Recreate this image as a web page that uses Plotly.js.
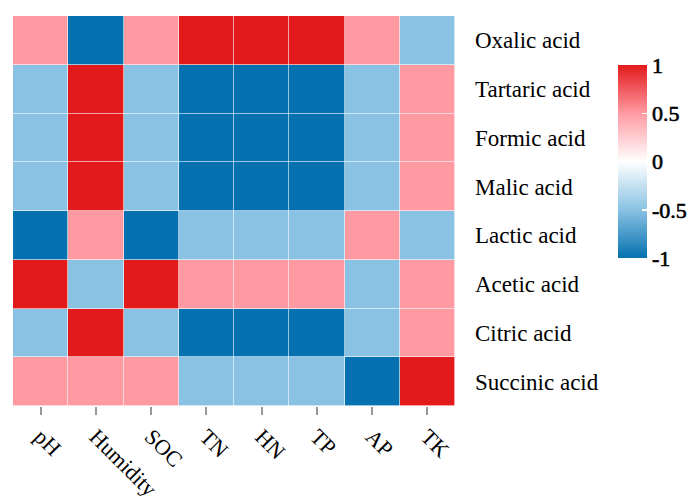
<!DOCTYPE html>
<html>
<head>
<meta charset="utf-8">
<script src="https://cdn.plot.ly/plotly-3.0.1.min.js"></script>
<style>
html,body{margin:0;padding:0;background:#fff;}
#chart{width:692px;height:497px;}
#chart .colorbar .cbaxis text, #chart .colorbar text.ytick, #chart .colorbar .tick text { stroke:#000; stroke-width:0.6px; }
</style>
</head>
<body>
<div id="chart"></div>
<script>
const factors = ["pH", "Humidity", "SOC", "TN", "HN", "TP", "AP", "TK"];
const acids = ["Oxalic acid", "Tartaric acid", "Formic acid", "Malic acid", "Lactic acid", "Acetic acid", "Citric acid", "Succinic acid"];
const oxalic    = [0.5, -1, 0.5, 1, 1, 1, 0.5, -0.5];
const tartaric  = [-0.5, 1, -0.5, -1, -1, -1, -0.5, 0.5];
const formic    = [-0.5, 1, -0.5, -1, -1, -1, -0.5, 0.5];
const malic     = [-0.5, 1, -0.5, -1, -1, -1, -0.5, 0.5];
const lactic    = [-1, 0.5, -1, -0.5, -0.5, -0.5, 0.5, -0.5];
const acetic    = [1, -0.5, 1, 0.5, 0.5, 0.5, -0.5, 0.5];
const citric    = [-0.5, 1, -0.5, -1, -1, -1, -0.5, 0.5];
const succinic  = [0.5, 0.5, 0.5, -0.5, -0.5, -0.5, -1, 1];
const colorbarTicks = [-1, -0.5, 0, 0.5, 1];

const z = [oxalic, tartaric, formic, malic, lactic, acetic, citric, succinic];
const serif = "Liberation Serif";

const trace = {
  type: "heatmap",
  x: factors,
  y: acids,
  z: z,
  zmin: -1, zmax: 1,
  colorscale: [
    [0, "#0571B0"],
    [0.25, "#8AC2E3"],
    [0.5, "#FFFFFF"],
    [0.75, "#FF9AA2"],
    [1, "#E31A1C"]
  ],
  xgap: 0.6, ygap: 0.6,
  colorbar: {
    xref: "container", yref: "container",
    x: 618/692, xanchor: "left",
    y: 1 - 206/497, yanchor: "middle",
    len: 193, lenmode: "pixels",
    thickness: 29, thicknessmode: "pixels",
    outlinewidth: 0,
    tickvals: colorbarTicks,
    ticktext: colorbarTicks.map(String),
    ticks: "inside", ticklen: 5, tickcolor: "#ffffff", tickwidth: 1.5,
    tickfont: {family: serif, size: 22, color: "#000"},
    xpad: 0, ypad: 0
  }
};

const layout = {
  width: 692, height: 497,
  margin: {l: 13, r: 237, t: 16, b: 91},
  paper_bgcolor: "#ffffff",
  plot_bgcolor: "rgba(255,255,255,0.35)",
  font: {family: serif, size: 22, color: "#000"},
  xaxis: {
    tickangle: 45,
    ticks: "outside", ticklen: 8, tickcolor: "#999", tickwidth: 2,
    showgrid: false, zeroline: false, showline: false,
    tickfont: {family: serif, size: 22}
  },
  yaxis: {
    side: "right",
    autorange: "reversed",
    ticks: "", ticklabelstandoff: 19,
    showgrid: false, zeroline: false, showline: false,
    tickfont: {family: serif, size: 23}
  }
};

Plotly.newPlot("chart", [trace], layout, {displayModeBar: false, staticPlot: true});
</script>
</body>
</html>
